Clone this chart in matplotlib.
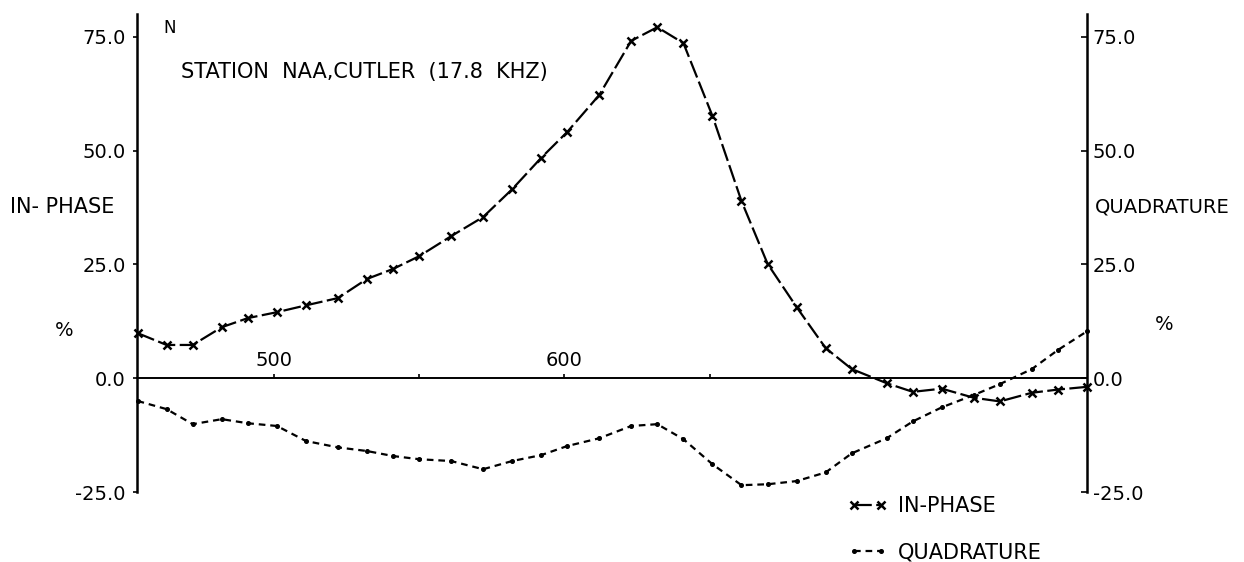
import matplotlib
matplotlib.use("Agg")
import matplotlib.pyplot as plt

# ---- data ----
distance = [453, 463, 472, 482, 491, 501, 511, 522, 532, 541, 550, 561, 572, 582,
            592, 601, 612, 623, 632, 641, 651, 661, 670, 680, 690, 699, 711, 720,
            730, 741, 750, 761, 770, 780]
in_phase = [9.9, 7.3, 7.3, 11.2, 13.2, 14.5, 16.0, 17.6, 21.8, 24.0, 26.8, 31.2,
            35.4, 41.5, 48.4, 54.1, 62.2, 74.1, 77.1, 73.6, 57.6, 38.9, 25.1, 15.6,
            6.6, 2.0, -1.1, -3.0, -2.3, -4.3, -5.1, -3.2, -2.5, -1.9]
quadrature = [-5.0, -6.8, -10.1, -9.0, -9.9, -10.5, -13.8, -15.2, -16.0, -17.1,
              -17.8, -18.2, -20.0, -18.2, -16.9, -14.9, -13.2, -10.5, -10.1, -13.4,
              -18.9, -23.5, -23.3, -22.6, -20.7, -16.5, -13.2, -9.5, -6.4, -3.7,
              -1.3, 2.0, 6.2, 10.3]
y_ticks = [-25, 0, 25, 50, 75]
y_tick_labels = ["-25.0", "0.0", "25.0", "50.0", "75.0"]
x_ticks = [500, 550, 600, 650]
x_tick_labels = ["500", "", "600", ""]

plt.rcParams["font.family"] = ["DejaVu Sans"]
FS = 14

fig = plt.figure(figsize=(12.44, 5.62), dpi=100)
ax = fig.add_axes([137 / 1244, 1 - 492 / 562, 950 / 1244, 478 / 562])
ax.set_xlim(452.8, 780.0)
ax.set_ylim(-25, 80)

l1, = ax.plot(distance, in_phase, color="black", lw=1.6, linestyle=(0, (8, 2)),
              marker="x", markersize=6, markeredgewidth=1.8, label="IN-PHASE",
              clip_on=False)
l2, = ax.plot(distance, quadrature, color="black", lw=1.6, linestyle=(0, (3, 2.2)),
              marker="o", markersize=2.6, label="QUADRATURE", clip_on=False)

# spines: left & right axes, horizontal zero line carries the x ticks
ax.spines["bottom"].set_visible(False)
ax.spines["top"].set_position(("data", 0))
ax.spines["top"].set_linewidth(1.4)
ax.spines["left"].set_linewidth(1.8)
ax.spines["right"].set_visible(False)

ax.xaxis.tick_top()
ax.set_xticks(x_ticks)
ax.set_xticklabels(x_tick_labels)
ax.tick_params(axis="x", direction="out", length=3, width=1.2, pad=3, labelsize=FS)

ax.set_yticks(y_ticks)
ax.set_yticklabels(y_tick_labels)
ax.tick_params(axis="y", direction="out", length=3, width=1.2, pad=5, labelsize=FS)

ax2 = ax.twinx()
ax2.set_ylim(ax.get_ylim())
for s in ["left", "top", "bottom"]:
    ax2.spines[s].set_visible(False)
ax2.spines["right"].set_linewidth(1.8)
ax2.set_yticks(y_ticks)
ax2.set_yticklabels(y_tick_labels)
ax2.tick_params(axis="y", direction="in", length=4, width=1.2, pad=4, labelsize=FS)

# annotations
fig.text(163 / 1244, 1 - 28 / 562, "N", fontsize=12, va="center", ha="left")
fig.text(181 / 1244, 1 - 72 / 562, "STATION  NAA,CUTLER  (17.8  KHZ)", fontsize=15,
         va="center", ha="left")
fig.text(10 / 1244, 1 - 207 / 562, "IN- PHASE", fontsize=15, va="center", ha="left")
fig.text(55 / 1244, 1 - 331 / 562, "%", fontsize=FS, va="center", ha="left")
fig.text(1095 / 1244, 1 - 207 / 562, "QUADRATURE", fontsize=FS, va="center", ha="left")
fig.text(1155 / 1244, 1 - 325 / 562, "%", fontsize=FS, va="center", ha="left")

fig.legend(handles=[l1, l2], loc="upper left",
           bbox_to_anchor=(848 / 1244, 1 - 496 / 562), frameon=False,
           prop={"size": 15}, numpoints=2, handlelength=1.9, handletextpad=0.5,
           labelspacing=1.25, borderaxespad=0, borderpad=0)

fig.savefig("out.png", dpi=100, facecolor="white")
